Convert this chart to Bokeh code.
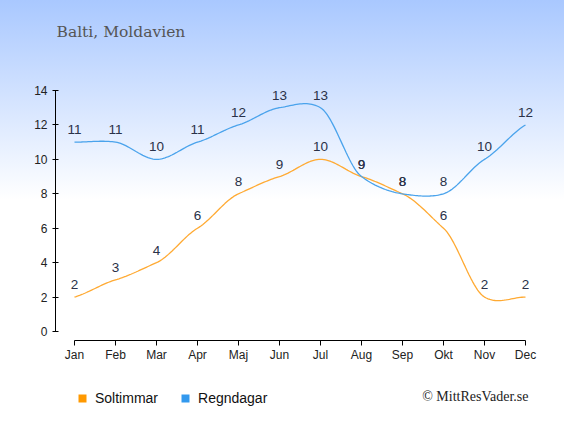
import numpy as np
from bokeh.plotting import figure
from bokeh.layouts import column
from bokeh.models import (Range1d, FixedTicker, Legend, LegendItem, Label,
                          ColumnDataSource)
from bokeh.core.properties import value
from bokeh.embed import file_html
from bokeh.resources import INLINE

# ---- data ----
months = ["Jan", "Feb", "Mar", "Apr", "Maj", "Jun", "Jul", "Aug", "Sep", "Okt", "Nov", "Dec"]
soltimmar = [2, 3, 4, 6, 8, 9, 10, 9, 8, 6, 2, 2]
regndagar = [11, 11, 10, 11, 12, 13, 13, 9, 8, 8, 10, 12]
y_ticks = [0, 2, 4, 6, 8, 10, 12, 14]
title_text = "Balti, Moldavien"
credit_text = "\u00a9 MittResVader.se"
series_names = ["Soltimmar", "Regndagar"]

ORANGE_LINE = "#ffaa33"
ORANGE_BOX = "#ff9900"
BLUE_LINE = "#4aa3ec"
BLUE_BOX = "#3399ee"
LABEL_COLOR = "#2a3148"


def cardinal_curve(xs, ys, k=0.7, n=24):
    """Smooth display curve through the data points (cardinal Hermite)."""
    x = np.asarray(xs, float)
    y = np.asarray(ys, float)
    N = len(x)
    m = np.zeros(N)
    m[0] = k * (y[1] - y[0])
    m[-1] = k * (y[-1] - y[-2])
    m[1:-1] = k * (y[2:] - y[:-2]) / 2.0
    px, py = [], []
    for i in range(N - 1):
        t = np.linspace(0, 1, n, endpoint=(i == N - 2))
        h00 = 2 * t**3 - 3 * t**2 + 1
        h10 = t**3 - 2 * t**2 + t
        h01 = -2 * t**3 + 3 * t**2
        h11 = t**3 - t**2
        px.extend((x[i] + t * (x[i + 1] - x[i])).tolist())
        py.extend((h00 * y[i] + h10 * m[i] + h01 * y[i + 1] + h11 * m[i + 1]).tolist())
    return px, py


W = 564
H1 = 368
H2 = 51
FL, FB = 55, 340          # frame left / bottom (pixels)
JAN_PX, XSTEP = 74, 41.0
Y0_PX, YPX = 331, 241.0 / 14.0

x0 = -(JAN_PX - FL) / XSTEP
x1 = x0 + (W - FL) / XSTEP
y0 = -(FB - Y0_PX) / YPX
y1 = y0 + FB / YPX


def dx(px):
    return x0 + (px - FL) / XSTEP


def dy(py):
    return y0 + (FB - py) / YPX


p = figure(width=W, height=H1, output_backend="svg", toolbar_location=None,
           x_range=Range1d(x0, x1), y_range=Range1d(y0, y1),
           min_border_left=FL, min_border_right=0,
           min_border_top=0, min_border_bottom=H1 - FB)
p.background_fill_color = None
p.border_fill_color = None
p.outline_line_color = None
p.grid.visible = False
p.styles = {"background-image": "linear-gradient(to bottom, #a9c8ff 0px, #ffffff 200px)"}

xi = list(range(len(months)))

sx, sy = cardinal_curve(xi, soltimmar)
rx, ry = cardinal_curve(xi, regndagar)
p.line(sx, sy, line_color=ORANGE_LINE, line_width=1.3)
p.line(rx, ry, line_color=BLUE_LINE, line_width=1.3)

src = ColumnDataSource(dict(x=xi, s=soltimmar, r=regndagar,
                            st=[str(v) for v in soltimmar],
                            rt=[str(v) for v in regndagar]))
for col, tcol in (("s", "st"), ("r", "rt")):
    p.text(x="x", y=col, text=tcol, source=src, text_align="center",
           text_baseline="bottom", y_offset=-8, text_color=LABEL_COLOR,
           text_font=value("Liberation Sans"), text_font_size="13.5px")

# axes
xa = p.xaxis[0]
xa.ticker = FixedTicker(ticks=xi)
xa.major_label_overrides = {i: m for i, m in enumerate(months)}
xa.bounds = (0, len(months) - 1)
xa.minor_tick_line_color = None
xa.major_tick_in = 0
xa.major_tick_out = 5
xa.major_label_standoff = 2
xa.axis_line_color = "black"
xa.major_tick_line_color = "black"
xa.major_label_text_font = "Liberation Sans"
xa.major_label_text_font_size = "12px"
xa.major_label_text_color = "#222222"

ya = p.yaxis[0]
ya.ticker = FixedTicker(ticks=y_ticks)
ya.bounds = (y_ticks[0], y_ticks[-1])
ya.minor_tick_line_color = None
ya.major_tick_in = 3
ya.major_tick_out = 3
ya.major_label_standoff = 5
ya.axis_line_color = "black"
ya.major_tick_line_color = "black"
ya.major_label_text_font = "Liberation Sans"
ya.major_label_text_font_size = "12px"
ya.major_label_text_color = "#222222"

p.add_layout(Label(x=dx(56), y=dy(31), text=title_text,
                   text_font="DejaVu Serif", text_font_size="15.5px",
                   text_color="#555555", text_baseline="middle", text_align="left"))

# ---- legend row (frame aligned with the main plot's frame) ----
p2 = figure(width=W, height=H2, output_backend="svg", toolbar_location=None,
            x_range=Range1d(FL, W), y_range=Range1d(0, H2),
            min_border=0, min_border_left=FL,
            x_axis_location=None, y_axis_location=None)
p2.background_fill_color = "white"
p2.border_fill_color = "white"
p2.outline_line_color = None
p2.grid.visible = False
ds = p2.quad(left=[-50], right=[-40], bottom=[-50], top=[-40],
             fill_color=ORANGE_BOX, line_color=None)
dr = p2.quad(left=[-50], right=[-40], bottom=[-50], top=[-40],
             fill_color=BLUE_BOX, line_color=None)
legend = Legend(items=[LegendItem(label=series_names[0], renderers=[ds]),
                       LegendItem(label=series_names[1], renderers=[dr])],
                orientation="horizontal", location=(22, 13),
                glyph_width=10, glyph_height=10, label_standoff=8, spacing=22,
                label_height=14, padding=0, margin=0, border_line_color=None,
                background_fill_alpha=0,
                label_text_font="Liberation Sans", label_text_font_size="14px",
                label_text_color="#111111")
p2.add_layout(legend)
p2.add_layout(Label(x=528, y=H2 - 28, text=credit_text,
                    text_font="Liberation Serif", text_font_size="14px",
                    text_color="#222222", text_baseline="middle", text_align="right"))

open("out.html", "w").write(file_html(column(p, p2, spacing=0), INLINE))
